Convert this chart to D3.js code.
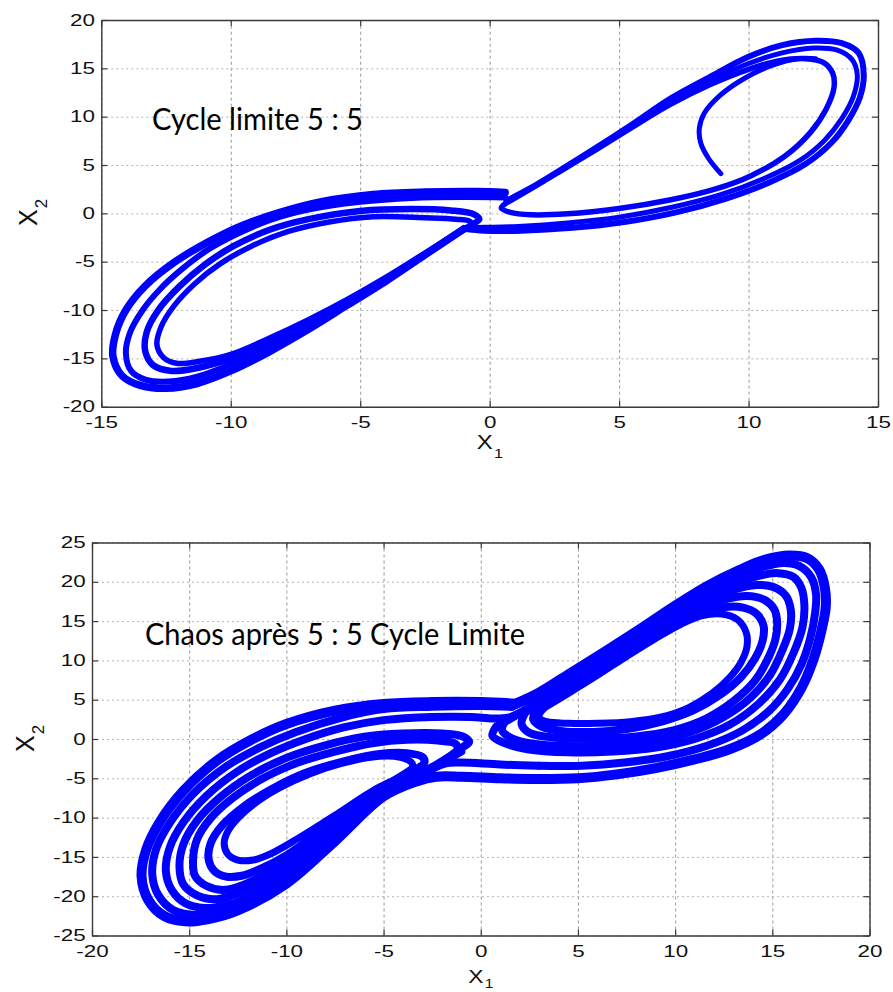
<!DOCTYPE html>
<html>
<head>
<meta charset="utf-8">
<script src="https://cdn.jsdelivr.net/npm/d3@7"></script>
<style>
  body { margin: 0; background: #fff; }
  svg { display: block; }
</style>
</head>
<body>
<svg id="chart" width="893" height="992"></svg>
<script>
// ---------- axis ticks ----------
const cycleXTicks = [-15, -10, -5, 0, 5, 10, 15];
const cycleYTicks = [-20, -15, -10, -5, 0, 5, 10, 15, 20];
const chaosXTicks = [-20, -15, -10, -5, 0, 5, 10, 15, 20];
const chaosYTicks = [-25, -20, -15, -10, -5, 0, 5, 10, 15, 20, 25];

// ---------- annotations ----------
const cycleTitle = "Cycle limite 5 : 5";
const chaosTitle = "Chaos après 5 : 5 Cycle Limite";

// ---------- 5:5 limit cycle, phase plane (x1, x2) ----------
const cycleLeft1 = [[-1.0,-1.6],[-2.5,-4.3],[-4,-7.0],[-5.5,-9.5],[-7,-12.0],[-8.5,-14.3],[-10,-16.3],[-11.3,-17.6],[-12.5,-18.1],[-13.5,-17.8],[-14.2,-16.8],[-14.55,-14.8],[-14.45,-12.5],[-14.05,-10],[-13.3,-7.5],[-12.2,-5.1],[-10.9,-3.0],[-9.6,-1.3],[-8.1,0.1],[-6.5,1.2],[-4.5,1.95],[-2.5,2.2],[-0.5,2.25],[0.6,2.15]];
const cycleLeft2 = [[-1.0,-1.7],[-2.5,-4.3],[-4,-6.9],[-5.5,-9.3],[-7,-11.7],[-8.5,-13.8],[-10,-15.6],[-11.3,-16.9],[-12.4,-17.4],[-13.3,-17.2],[-13.85,-16.3],[-14.05,-14.5],[-13.9,-12.4],[-13.4,-10],[-12.75,-7.9],[-11.9,-5.8],[-10.9,-3.8],[-9.8,-2.2],[-8.5,-0.7],[-7,0.4],[-5,1.2],[-3,1.6],[-1,1.7],[0.6,1.65]];
const cycleLeft3 = [[-1.1,-1.8],[-2.5,-4.2],[-4,-6.8],[-5.5,-9.1],[-7,-11.3],[-8.5,-13.3],[-10,-15.0],[-11.3,-16.0],[-12.3,-16.3],[-13.0,-15.7],[-13.3,-14.3],[-13.25,-12.3],[-12.8,-10],[-12.0,-7.6],[-11.0,-5.3],[-9.9,-3.4],[-8.5,-1.7],[-7,-0.6],[-5,0.25],[-3,0.45],[-1.5,0.3],[-0.6,-0.1],[-0.4,-0.6],[-0.7,-1.2],[-1.1,-1.8]];
const cycleLeft4 = [[-1.2,-1.9],[-2.5,-4.1],[-4,-6.6],[-5.5,-8.9],[-7,-11.0],[-8.5,-12.9],[-10,-14.6],[-11.2,-15.3],[-12.1,-15.5],[-12.6,-14.9],[-12.85,-13.6],[-12.7,-11.8],[-12.2,-9.6],[-11.4,-7.3],[-10.4,-5.2],[-9.2,-3.4],[-7.8,-1.9],[-6.2,-0.9],[-4.5,-0.35],[-2.5,-0.45],[-1.3,-0.6],[-0.75,-0.85],[-0.75,-1.25],[-1.2,-1.9]];
const cycleRight1 = [[0.65,1.3],[1.5,2.5],[2.5,4.1],[4,6.6],[5.5,9.2],[7,11.9],[8.5,14.1],[10,16.2],[11.3,17.4],[12.6,17.85],[13.6,17.6],[14.25,16.6],[14.45,14.3],[14.3,12.0],[13.85,9.6],[13.2,7.3],[12.2,5.1],[10.8,3.2],[9.1,1.5],[7.2,0.1],[5.2,-0.9],[3.2,-1.5],[1.2,-1.8],[-0.2,-1.8],[-1.0,-1.6]];
const cycleRight2 = [[0.65,1.2],[1.5,2.4],[2.5,4.0],[4,6.5],[5.5,9.0],[7,11.6],[8.5,13.7],[10,15.5],[11.3,16.6],[12.5,17.1],[13.4,16.9],[14.0,15.9],[14.2,14.3],[14.05,12.1],[13.6,9.8],[12.95,7.6],[12.0,5.5],[10.6,3.6],[8.9,1.9],[7.0,0.6],[5.0,-0.4],[3.0,-1.0],[1.1,-1.35],[-0.2,-1.45],[-1.0,-1.5]];
const cycleRight3 = [[0.6,1.0],[1.5,2.4],[2.5,4.0],[4,6.4],[5.5,8.9],[7,11.3],[8.5,13.3],[10,14.9],[11.2,15.8],[12.2,16.0],[12.9,15.6],[13.25,14.5],[13.3,13.0],[13.0,10.8],[12.4,8.4],[11.4,5.9],[10.1,3.9],[8.7,2.5],[7.0,1.4],[5.0,0.5],[3.0,-0.05],[1.6,-0.15],[0.8,0.1],[0.45,0.55],[0.6,1.0]];
const cycleTransient = [[8.93,4.1],[8.45,5.7],[8.15,7.3],[8.1,8.8],[8.3,10.4],[8.9,12.2],[9.8,13.9],[10.9,15.3],[11.9,16.0],[12.6,16.0]];

// ---------- chaotic regime after the 5:5 cycle ----------
const chaosLeftA = [[3,-5.1],[1,-5.0],[-1,-4.8],[-2.3,-4.8],[-3.3,-5.4],[-5,-7.3],[-7.5,-13.0],[-10,-18.4],[-12.5,-21.8],[-14,-22.9],[-15.2,-23.2],[-16.3,-22.5],[-17.1,-20.5],[-17.45,-17.5],[-17.2,-14.0],[-16.5,-10.5],[-15.3,-6.6],[-13.6,-2.8],[-11.8,-0.1],[-10,1.9],[-7.5,3.6],[-5,4.45],[-2.5,4.7],[0,4.7],[1.8,4.5]];
const chaosLeftB = [[3,-3.4],[1,-3.25],[-1,-3.0],[-1.8,-3.1],[-2.8,-4.2],[-5,-7.0],[-7.5,-12.6],[-10,-17.8],[-12.3,-21.1],[-13.6,-22.1],[-14.7,-22.4],[-15.8,-21.8],[-16.6,-19.8],[-16.9,-17.2],[-16.7,-14.0],[-16.0,-10.7],[-14.8,-7.0],[-13.1,-3.5],[-11.3,-1.0],[-9.5,0.9],[-7.2,2.7],[-5,3.8],[-2.5,4.1],[0,4.2],[1.6,4.1]];
const chaosLeftC = [[-1.0,-1.6],[-2.0,-3.0],[-3.2,-4.7],[-5,-6.7],[-7.5,-12.1],[-10,-17.1],[-12,-20.2],[-13.2,-21.2],[-14.2,-21.5],[-15.2,-20.9],[-15.9,-19.2],[-16.2,-16.8],[-16.0,-13.8],[-15.3,-10.6],[-14.1,-7.2],[-12.5,-4.1],[-10.8,-1.8],[-9,0.0],[-7,1.5],[-5,2.4],[-2.5,2.8],[-0.5,2.8],[0.6,2.6],[1.4,2.7],[2.0,3.3]];
const chaosLeftD = [[-1.3,-1.8],[-2.3,-3.4],[-3.5,-4.9],[-5,-6.4],[-7.5,-11.5],[-10,-16.3],[-11.8,-19.0],[-12.9,-20.0],[-13.7,-20.4],[-14.6,-19.9],[-15.3,-18.5],[-15.5,-16.2],[-15.3,-13.4],[-14.6,-10.4],[-13.4,-7.4],[-11.8,-4.6],[-10,-2.4],[-8,-0.8],[-6,0.3],[-4,0.7],[-2,0.7],[-0.9,0.3],[-0.6,-0.4],[-0.9,-1.0],[-1.3,-1.8]];
const chaosLeftE = [[-1.6,-2.2],[-2.6,-3.7],[-3.8,-5.0],[-5,-6.1],[-7.5,-10.9],[-10,-15.6],[-11.6,-17.9],[-12.6,-18.9],[-13.3,-19.2],[-14.1,-18.7],[-14.7,-17.4],[-14.8,-15.4],[-14.6,-12.8],[-13.9,-10.1],[-12.7,-7.4],[-11.2,-5.0],[-9.4,-3.0],[-7.5,-1.6],[-5.5,-0.5],[-3.8,-0.1],[-2.2,-0.2],[-1.3,-0.6],[-1.2,-1.3],[-1.6,-2.2]];
const chaosLeftF = [[-3.3,-3.8],[-4.2,-5.0],[-5.3,-6.3],[-7.5,-10.3],[-10,-14.8],[-11.4,-16.6],[-12.3,-17.4],[-13.1,-17.5],[-13.7,-16.8],[-14.0,-15.3],[-13.9,-13.3],[-13.3,-11.0],[-12.2,-8.6],[-10.7,-6.3],[-9,-4.3],[-7,-2.8],[-5.2,-1.9],[-3.8,-1.8],[-3.0,-2.3],[-2.9,-3.0],[-3.3,-3.8]];
const chaosLeftG = [[-3.8,-4.2],[-4.6,-5.4],[-5.7,-6.8],[-7.5,-9.7],[-9.5,-12.8],[-10.8,-14.6],[-11.7,-15.4],[-12.5,-15.4],[-13.0,-14.7],[-13.2,-13.3],[-13.0,-11.7],[-12.3,-9.6],[-11.1,-7.3],[-9.6,-5.3],[-8,-3.7],[-6.5,-2.7],[-5.2,-2.2],[-4.2,-2.3],[-3.6,-2.9],[-3.5,-3.5],[-3.8,-4.2]];
const chaosRightA = [[1.8,4.5],[3.0,5.9],[4.5,8.2],[6.5,11.3],[8.2,14.0],[9.9,16.8],[11.6,19.4],[13.3,21.5],[14.6,22.8],[15.9,23.35],[16.8,23.0],[17.4,21.6],[17.7,19.3],[17.75,16.8],[17.5,13.5],[17.1,10.0],[16.5,6.5],[15.6,3.2],[14.4,0.6],[12.8,-1.3],[11,-2.6],[9,-3.7],[7,-4.5],[5,-5.0],[3,-5.1]];
const chaosRightB = [[1.6,4.1],[2.9,5.6],[4.5,7.9],[6.5,10.9],[8.2,13.5],[9.9,16.2],[11.6,18.7],[13.2,20.7],[14.5,21.9],[15.6,22.4],[16.4,22.0],[17.0,20.6],[17.25,18.4],[17.2,16.0],[16.95,12.8],[16.5,9.5],[15.8,6.4],[14.8,3.5],[13.4,1.0],[11.6,-0.9],[9.6,-2.2],[7.4,-3.0],[5.2,-3.4],[3,-3.4]];
const chaosRightC = [[0.8,1.6],[1.9,3.1],[3.4,5.4],[5.0,7.9],[6.6,10.4],[8.2,12.9],[9.9,15.4],[11.5,17.7],[12.9,19.5],[14.2,20.7],[15.3,21.1],[16.1,20.6],[16.5,19.2],[16.65,17.0],[16.55,14.2],[16.1,11.0],[15.4,7.6],[14.3,4.5],[12.8,1.8],[11.0,0.0],[9.0,-1.1],[6.8,-1.6],[4.5,-1.7],[2.4,-1.3],[1.2,-0.5],[0.6,0.4],[0.8,1.6]];
const chaosRightD = [[1.3,2.4],[2.4,3.9],[3.8,6.0],[5.4,8.5],[7.0,11.0],[8.6,13.5],[10.2,15.8],[11.7,17.7],[13.0,19.0],[14.2,19.6],[15.1,19.3],[15.7,18.2],[15.95,16.4],[15.9,14.0],[15.5,11.2],[14.9,8.2],[13.9,5.3],[12.5,2.8],[10.8,0.9],[8.8,-0.3],[6.6,-0.8],[4.4,-0.9],[2.7,-0.6],[1.6,0.1],[1.1,1.1],[1.3,2.4]];
const chaosRightE = [[2.3,3.4],[3.5,5.2],[5.0,7.5],[6.6,10.1],[8.2,12.6],[9.8,14.9],[11.3,16.7],[12.6,17.8],[13.7,18.2],[14.6,17.7],[15.1,16.5],[15.25,14.8],[15.15,12.6],[14.75,10.1],[14.1,7.4],[13.0,4.8],[11.6,2.6],[9.9,1.1],[7.9,0.3],[5.7,0.05],[3.7,0.2],[2.5,0.8],[2.1,1.9],[2.3,3.4]];
const chaosRightF = [[2.9,3.9],[4.0,5.5],[5.5,7.7],[7.1,10.2],[8.7,12.6],[10.2,14.7],[11.5,16.1],[12.6,16.8],[13.5,16.7],[14.2,15.9],[14.55,14.4],[14.5,12.5],[14.1,10.2],[13.4,7.9],[12.3,5.6],[10.9,3.6],[9.3,2.2],[7.6,1.3],[5.8,0.9],[4.2,1.0],[3.1,1.6],[2.7,2.5],[2.9,3.9]];
const chaosRightG = [[3.3,4.0],[4.5,5.8],[6.0,8.1],[7.5,10.5],[9.0,12.8],[10.3,14.6],[11.4,15.7],[12.4,15.9],[13.2,15.2],[13.65,13.6],[13.7,11.8],[13.4,9.8],[12.8,7.8],[11.9,5.8],[10.7,4.0],[9.3,2.8],[7.7,2.2],[6,2.0],[4.5,2.0],[3.4,2.2],[3.0,2.7],[3.05,3.3],[3.3,4.0]];

// ---------- drawing ----------
const svg = d3.select("#chart");
const BLUE = "#0000ff";
const plainNumber = d => String(d);   // hyphen-minus, as in the printed axes

function drawPanel(p) {
  const x = d3.scaleLinear().domain(p.xDomain).range([p.left, p.right]);
  const y = d3.scaleLinear().domain(p.yDomain).range([p.bottom, p.top]);
  const w = p.right - p.left, h = p.bottom - p.top;
  const g = svg.append("g");

  // dotted grid
  g.append("g")
    .attr("transform", `translate(0,${p.bottom})`)
    .call(d3.axisBottom(x).tickValues(p.xTicks).tickSize(-h).tickFormat(""))
    .call(s => {
      s.select(".domain").remove();
      s.selectAll(".tick line").attr("stroke", "#8c8c8c").attr("stroke-width", 0.9).attr("stroke-dasharray", "3,3");
    });
  g.append("g")
    .attr("transform", `translate(${p.left},0)`)
    .call(d3.axisLeft(y).tickValues(p.yTicks).tickSize(-w).tickFormat(""))
    .call(s => {
      s.select(".domain").remove();
      s.selectAll(".tick line").attr("stroke", "#b4b4b4").attr("stroke-width", 1).attr("stroke-dasharray", "2,3");
    });

  // trajectories
  const clipId = p.id + "-clip";
  svg.append("clipPath").attr("id", clipId)
    .append("rect").attr("x", p.left).attr("y", p.top).attr("width", w).attr("height", h);
  const line = d3.line()
    .x(d => x(d[0])).y(d => y(d[1]))
    .curve(d3.curveCatmullRom.alpha(0.5));
  const traj = g.append("g").attr("clip-path", `url(#${clipId})`);
  p.strands.forEach(s => {
    traj.append("path")
      .attr("d", line(s.points))
      .attr("fill", "none")
      .attr("stroke", BLUE)
      .attr("stroke-width", s.width)
      .attr("stroke-linecap", "round")
      .attr("stroke-linejoin", "round");
  });

  // box with inward ticks on all four sides
  const styleAxis = s => {
    s.attr("font-family", "'Liberation Sans', Arial, sans-serif").attr("font-size", 16);
    s.select(".domain").attr("stroke", "#3a3a3a").attr("stroke-width", 1.4);
    s.selectAll(".tick line").attr("stroke", "#3a3a3a").attr("stroke-width", 1.2);
    s.selectAll(".tick text").attr("fill", "#111").attr("transform", "scale(1.4,1)");
  };
  g.append("g").attr("transform", `translate(0,${p.bottom})`)
    .call(d3.axisBottom(x).tickValues(p.xTicks).tickFormat(plainNumber).tickSizeInner(-6).tickSizeOuter(0).tickPadding(10))
    .call(styleAxis);
  g.append("g").attr("transform", `translate(${p.left},0)`)
    .call(d3.axisLeft(y).tickValues(p.yTicks).tickFormat(plainNumber).tickSizeInner(-6).tickSizeOuter(0).tickPadding(4.5))
    .call(styleAxis);
  g.append("g").attr("transform", `translate(0,${p.top})`)
    .call(d3.axisTop(x).tickValues(p.xTicks).tickSizeInner(-6).tickSizeOuter(0).tickFormat(""))
    .call(styleAxis);
  g.append("g").attr("transform", `translate(${p.right},0)`)
    .call(d3.axisRight(y).tickValues(p.yTicks).tickSizeInner(-6).tickSizeOuter(0).tickFormat(""))
    .call(styleAxis);

  // axis names with subscripts
  const xl = g.append("text")
    .attr("transform", `translate(${p.xLabel[0]},${p.xLabel[1]}) scale(1.2,1)`)
    .attr("font-family", "'Liberation Sans', Arial, sans-serif")
    .attr("font-size", p.xLabelSize).attr("fill", "#111");
  xl.append("tspan").text("X");
  xl.append("tspan").attr("font-size", p.xLabelSize * 0.68).attr("dy", p.xSubDy).attr("dx", 1).text("1");

  const yl = g.append("text")
    .attr("transform", `translate(${p.yLabel[0]},${p.yLabel[1]}) rotate(-90)`)
    .attr("font-family", "'Liberation Sans', Arial, sans-serif")
    .attr("font-size", 25).attr("fill", "#111");
  yl.append("tspan").text("X");
  yl.append("tspan").attr("font-size", 17).attr("dy", 10).attr("dx", 1).text("2");

  // annotation
  g.append("text")
    .attr("x", p.title.x).attr("y", p.title.y)
    .attr("font-family", "Lato, 'Open Sans', sans-serif")
    .attr("font-size", 30).attr("fill", "#000")
    .attr("textLength", p.title.len).attr("lengthAdjust", "spacingAndGlyphs")
    .text(p.title.text);
}

drawPanel({
  id: "cycle",
  left: 101.3, right: 878, top: 20, bottom: 406.7,
  xDomain: [-15, 15], yDomain: [-20, 20],
  xTicks: cycleXTicks, yTicks: cycleYTicks,
  xLabel: [476.7, 448.5], xLabelSize: 20, xSubDy: 9,
  yLabel: [37, 226],
  title: { text: cycleTitle, x: 152, y: 130, len: 211 },
  strands: [
    { points: cycleLeft1, width: 7.5 },
    { points: cycleLeft2, width: 6 },
    { points: cycleLeft3, width: 6.5 },
    { points: cycleLeft4, width: 5.5 },
    { points: cycleRight1, width: 6 },
    { points: cycleRight2, width: 5 },
    { points: cycleRight3, width: 5.5 },
    { points: cycleTransient, width: 5 }
  ]
});

drawPanel({
  id: "chaos",
  left: 92, right: 869.5, top: 542.5, bottom: 935.5,
  xDomain: [-20, 20], yDomain: [-25, 25],
  xTicks: chaosXTicks, yTicks: chaosYTicks,
  xLabel: [468.3, 982.5], xLabelSize: 19, xSubDy: 5.5,
  yLabel: [34, 752],
  title: { text: chaosTitle, x: 145, y: 645, len: 380 },
  strands: [
    { points: chaosLeftA, width: 10 },
    { points: chaosLeftB, width: 8 },
    { points: chaosLeftC, width: 8 },
    { points: chaosLeftD, width: 8 },
    { points: chaosLeftE, width: 8 },
    { points: chaosLeftF, width: 8 },
    { points: chaosLeftG, width: 7 },
    { points: chaosRightA, width: 10 },
    { points: chaosRightB, width: 8 },
    { points: chaosRightC, width: 8 },
    { points: chaosRightD, width: 8 },
    { points: chaosRightE, width: 8 },
    { points: chaosRightF, width: 8 },
    { points: chaosRightG, width: 7 }
  ]
});
</script>
</body>
</html>
